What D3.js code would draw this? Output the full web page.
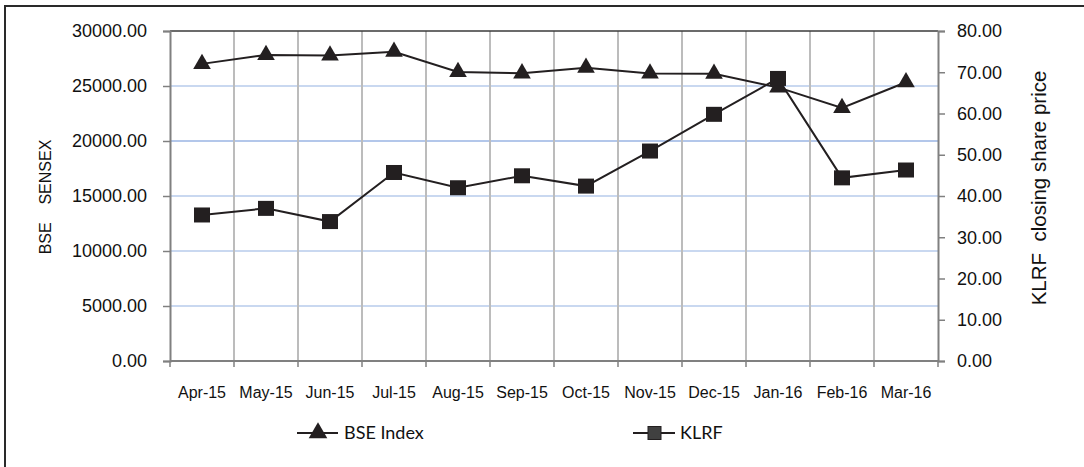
<!DOCTYPE html>
<html><head><meta charset="utf-8">
<script src="https://cdn.jsdelivr.net/npm/d3@7/dist/d3.min.js"></script>
<style>
body{margin:0;background:#fff;}
svg{display:block;}
</style></head>
<body>
<svg id="chart" width="1084" height="467"></svg>
<script>
const months = ["Apr-15","May-15","Jun-15","Jul-15","Aug-15","Sep-15","Oct-15","Nov-15","Dec-15","Jan-16","Feb-16","Mar-16"];
const bseIndex = [27011,27828,27781,28115,26283,26155,26657,26146,26118,24871,23002,25342];
const klrf = [35.4,37.0,33.8,45.7,42.0,44.9,42.4,50.9,59.8,68.5,44.4,46.3];
const leftTicks = [0,5000,10000,15000,20000,25000,30000];
const rightTicks = [0,10,20,30,40,50,60,70,80];
const seriesNames = ["BSE Index","KLRF"];
const leftTitle = "BSE    SENSEX";
const rightTitle = "KLRF  closing share price";

const svg = d3.select("#chart");
const L = 170, R = 938, T = 31, B = 361;
const ink = "#231f20";

const x = d3.scaleBand().domain(months).range([L, R]).padding(0);
const xi = d3.scaleLinear().domain([0, months.length]).range([L, R]);
const yL = d3.scaleLinear().domain([0, 30000]).range([B, T]);
const yR = d3.scaleLinear().domain([0, 80]).range([B, T]);
const cx = d => x(d) + x.bandwidth() / 2;

// outer frame
svg.append("rect").attr("x", 5).attr("y", 6).attr("width", 1200).attr("height", 600)
  .attr("fill", "none").attr("stroke", "#2a2a2a").attr("stroke-width", 2);

// horizontal gridlines
svg.append("g").selectAll("line").data(leftTicks.filter(d => d > 0 && d < 30000)).join("line")
  .attr("x1", L).attr("x2", R).attr("y1", d => yL(d)).attr("y2", d => yL(d))
  .attr("stroke", d => d === 20000 ? "#b3c7ea" : "#c9d8f0").attr("stroke-width", 2);

// vertical gridlines
svg.append("g").selectAll("line").data(d3.range(1, months.length)).join("line")
  .attr("x1", d => xi(d)).attr("x2", d => xi(d)).attr("y1", T).attr("y2", B)
  .attr("stroke", "#bcbcbc").attr("stroke-width", 2);

// top border
svg.append("line").attr("x1", L).attr("x2", R).attr("y1", T).attr("y2", T)
  .attr("stroke", "#3a3a3a").attr("stroke-width", 1.5);

const fmt = d3.format(".2f");
// left axis
const gl = svg.append("g").attr("transform", `translate(${L},0)`)
  .call(d3.axisLeft(yL).tickValues(leftTicks).tickFormat(fmt).tickSize(7).tickPadding(16));
// right axis
const gr = svg.append("g").attr("transform", `translate(${R},0)`)
  .call(d3.axisRight(yR).tickValues(rightTicks).tickFormat(fmt).tickSize(7).tickPadding(12));
[gl, gr].forEach(g => {
  g.select(".domain").attr("stroke", "#808080").attr("stroke-width", 2);
  g.selectAll(".tick line").attr("stroke", "#808080").attr("stroke-width", 1.5);
  g.selectAll("text").attr("font-family", "Liberation Sans, Arial, sans-serif")
    .attr("font-size", 18).attr("fill", "#111");
});

// bottom axis: labels
const gb = svg.append("g").attr("transform", `translate(0,${B})`)
  .call(d3.axisBottom(x).tickSize(0).tickPadding(26));
gb.select(".domain").remove();
gb.selectAll("text").attr("font-family", "Liberation Sans, Arial, sans-serif")
  .attr("font-size", 16).attr("fill", "#111");
// bottom axis line and boundary ticks
svg.append("line").attr("x1", L).attr("x2", R).attr("y1", B).attr("y2", B)
  .attr("stroke", "#808080").attr("stroke-width", 2);
svg.append("g").selectAll("line").data(d3.range(0, months.length + 1)).join("line")
  .attr("x1", d => xi(d)).attr("x2", d => xi(d)).attr("y1", B).attr("y2", B + 6)
  .attr("stroke", "#808080").attr("stroke-width", 1.5);

// lines
const lineL = d3.line().x((d, i) => cx(months[i])).y(d => yL(d));
const lineR = d3.line().x((d, i) => cx(months[i])).y(d => yR(d));
svg.append("path").datum(bseIndex).attr("d", lineL).attr("fill", "none")
  .attr("stroke", ink).attr("stroke-width", 2);
svg.append("path").datum(klrf).attr("d", lineR).attr("fill", "none")
  .attr("stroke", ink).attr("stroke-width", 2);

// markers
const tri = d3.symbol().type(d3.symbolTriangle).size(135);
svg.append("g").selectAll("path").data(bseIndex).join("path")
  .attr("d", tri).attr("transform", (d, i) => `translate(${cx(months[i])},${yL(d)})`)
  .attr("fill", ink);
svg.append("g").selectAll("rect").data(klrf).join("rect")
  .attr("x", (d, i) => cx(months[i]) - 8).attr("y", d => yR(d) - 7.5)
  .attr("width", 16).attr("height", 15).attr("fill", ink);

// axis titles
svg.append("text").attr("transform", `translate(51,197) rotate(-90)`)
  .attr("text-anchor", "middle").style("white-space", "pre")
  .attr("font-family", "Liberation Sans, Arial, sans-serif").attr("font-size", 16).attr("fill", "#111")
  .text(leftTitle);
svg.append("text").attr("transform", `translate(1046,188) rotate(-90)`)
  .attr("text-anchor", "middle").style("white-space", "pre")
  .attr("font-family", "Liberation Sans, Arial, sans-serif").attr("font-size", 20.5).attr("fill", "#111")
  .text(rightTitle);

// legend
const legY = 433;
const tri2 = d3.symbol().type(d3.symbolTriangle).size(150);
const lg1 = svg.append("g");
lg1.append("line").attr("x1", 297).attr("x2", 338).attr("y1", legY).attr("y2", legY)
  .attr("stroke", ink).attr("stroke-width", 2);
lg1.append("path").attr("d", tri2).attr("transform", `translate(318,${legY})`).attr("fill", ink);
lg1.append("text").attr("x", 344).attr("y", legY + 6).attr("font-family", "Lato, sans-serif")
  .attr("font-size", 18).attr("fill", "#111").text(seriesNames[0]);
const lg2 = svg.append("g");
lg2.append("line").attr("x1", 633).attr("x2", 675).attr("y1", legY).attr("y2", legY)
  .attr("stroke", ink).attr("stroke-width", 2);
lg2.append("rect").attr("x", 648).attr("y", legY - 6.5).attr("width", 13).attr("height", 13)
  .attr("fill", "#404040").attr("stroke", ink).attr("stroke-width", 1);
lg2.append("text").attr("x", 680).attr("y", legY + 6).attr("font-family", "Lato, sans-serif")
  .attr("font-size", 18).attr("fill", "#111").text(seriesNames[1]);
</script>
</body></html>
